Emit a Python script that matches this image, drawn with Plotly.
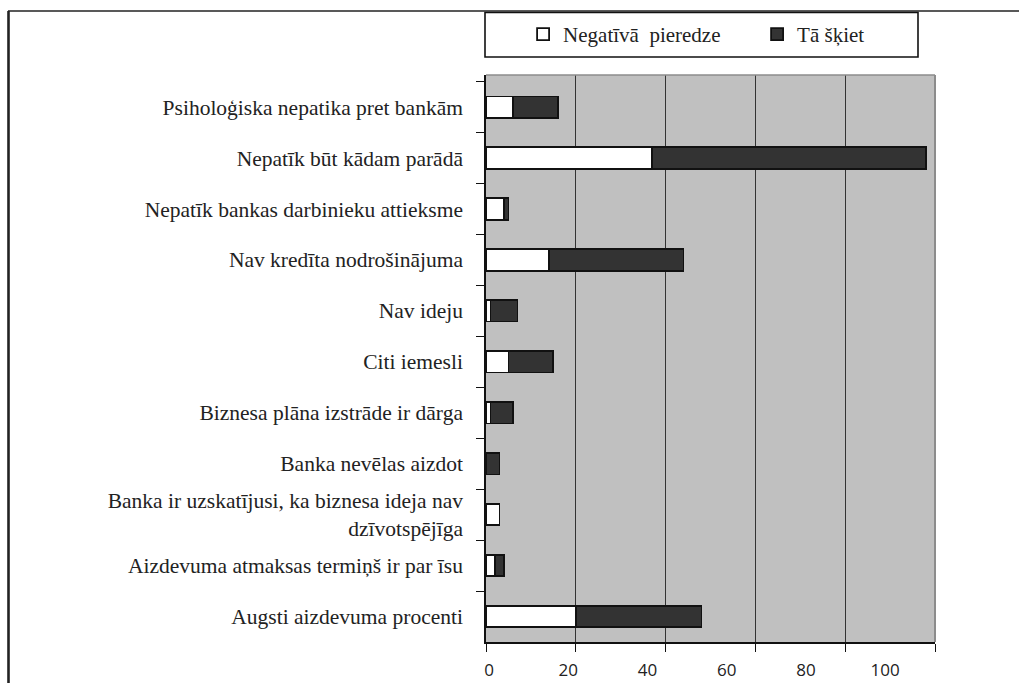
import plotly.graph_objects as go

categories = [
    "Psiholoģiska nepatika pret bankām",
    "Nepatīk būt kādam parādā",
    "Nepatīk bankas darbinieku attieksme",
    "Nav kredīta nodrošinājuma",
    "Nav ideju",
    "Citi iemesli",
    "Biznesa plāna izstrāde ir dārga",
    "Banka nevēlas aizdot",
    "Banka ir uzskatījusi, ka biznesa ideja nav<br>dzīvotspējīga",
    "Aizdevuma atmaksas termiņš ir par īsu",
    "Augsti aizdevuma procenti",
]
negativa_pieredze = [6, 37, 4, 14, 1, 5, 1, 0, 3, 2, 20]
ta_skiet = [10, 61, 1, 30, 6, 10, 5, 3, 0, 2, 28]
series_names = ["Negatīvā  pieredze", "Tā šķiet"]
tick_values = [0, 20, 40, 60, 80, 100]
tick_labels = ["0", "20", "40", "60", "80", "100"]

serif = "Liberation Serif, Times New Roman, serif"
sans = "Open Sans, Noto Sans, sans-serif"

fig = go.Figure()
fig.add_trace(go.Bar(
    y=categories, x=negativa_pieredze, orientation="h", name=series_names[0],
    marker=dict(color="#ffffff", line=dict(color="#111111", width=1.8)),
))
fig.add_trace(go.Bar(
    y=categories, x=ta_skiet, orientation="h", name=series_names[1],
    marker=dict(color="#333333", line=dict(color="#111111", width=1.8)),
))
# carrier for the label axis
fig.add_trace(go.Scatter(
    x=[0], y=[categories[0]], xaxis="x2", mode="markers",
    marker=dict(opacity=0), showlegend=False, hoverinfo="skip",
))

L, R, T, B = 486, 84, 75, 41
W, H = 1019, 683
pw, ph = W - L - R, H - T - B

def px(x):
    return (x - L) / pw

def py(y):
    return (H - B - y) / ph

fig.update_layout(
    width=W, height=H,
    margin=dict(l=L, r=R, t=T, b=B, autoexpand=False),
    paper_bgcolor="#ffffff",
    plot_bgcolor="#c0c0c0",
    barmode="stack",
    bargap=0.58,
    showlegend=True,
    legend=dict(
        orientation="h",
        x=-0.002, xanchor="left", y=py(34.5), yanchor="middle",
        indentation=38,
        bgcolor="rgba(0,0,0,0)", borderwidth=0,
        font=dict(family=serif, size=21, color="#222222"),
        entrywidth=151, entrywidthmode="pixels", traceorder="normal",
    ),
    xaxis=dict(
        range=[0, 100], tickvals=tick_values, showticklabels=False,
        showgrid=True, gridcolor="#333333", gridwidth=1,
        showline=True, linecolor="#111111", linewidth=1.5,
        ticks="outside", ticklen=8, tickcolor="#111111", tickwidth=1.2,
        zeroline=False, fixedrange=True,
    ),
    xaxis2=dict(
        overlaying="x", anchor="y", side="bottom",
        range=[-0.76, 112.6], tickvals=tick_values, ticktext=tick_labels,
        showgrid=False, showline=False, zeroline=False, ticks="",
        ticklabelstandoff=16,
        tickfont=dict(family=sans, size=17, color="#222222"),
    ),
    yaxis=dict(
        autorange="reversed", type="category",
        showgrid=False, showline=True, linecolor="#111111", linewidth=1.5,
        ticks="outside", tickson="boundaries", ticklen=8, tickcolor="#111111", tickwidth=1.2,
        ticklabelstandoff=17,
        tickfont=dict(family=serif, size=21.5, color="#222222"),
    ),
    shapes=[
        # outer frame (top and left)
        dict(type="line", xref="paper", yref="paper", x0=px(8), x1=px(1030), y0=py(11), y1=py(11),
             line=dict(color="#222222", width=1.6)),
        dict(type="line", xref="paper", yref="paper", x0=px(8.5), x1=px(8.5), y0=py(11), y1=py(700),
             line=dict(color="#222222", width=2.6)),
        # plot top and right borders
        dict(type="line", xref="paper", yref="paper", x0=0, x1=1, y0=1, y1=1,
             line=dict(color="#8c8c8c", width=1.5), layer="above"),
        dict(type="line", xref="paper", yref="paper", x0=1, x1=1, y0=0, y1=1,
             line=dict(color="#8c8c8c", width=2), layer="above"),
        # legend box
        dict(type="rect", xref="paper", yref="paper", x0=px(485), x1=px(918), y0=py(57), y1=py(12.5),
             line=dict(color="#111111", width=1.6), fillcolor="rgba(0,0,0,0)"),
    ],
)

fig.write_html("out.html", config={"displayModeBar": False},
               post_script="document.body.style.margin='0';")
